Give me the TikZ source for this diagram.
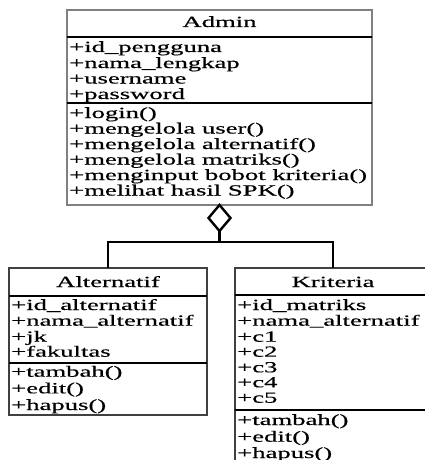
\documentclass[tikz,border=0pt]{standalone}
\usepackage{fontspec}
\setmainfont{Liberation Serif}[FakeBold=0.4]
\usepackage{graphicx}
\usetikzlibrary{shapes.geometric}
\newcommand\sx[1]{\scalebox{1.72}[1]{#1}}
\begin{document}
\begin{tikzpicture}[x=1pt,y=-1pt,
  txt/.style={anchor=base west,inner sep=0pt,font=\fontsize{15.5}{16}\selectfont},
  ttl/.style={anchor=base,inner sep=0pt,font=\fontsize{15.5}{16}\selectfont},
  cls/.style={draw=black!75,line width=1.2pt,anchor=north west,inner sep=0pt,outer sep=0pt},
  adm/.style={cls,draw=black!50,line width=1.8pt},
  sep/.style={black,line width=1.1pt},
  conn/.style={black,line width=2.6pt},
  agg/.style={diamond,draw=black,fill=white,line width=2.4pt,inner sep=0pt,outer sep=0pt,
    minimum width=22pt,minimum height=26pt,anchor=north}
]
\clip (0,0) rectangle (425,460);
\fill[white] (0,0) rectangle (425,460);

% class boxes
\node[adm,minimum width=305pt,minimum height=195pt] (admin) at (67,10) {};
\node[cls,minimum width=198pt,minimum height=147pt] (alt) at (9,268) {};
\node[cls,minimum width=196pt,minimum height=210pt] (krit) at (235,268) {};

% compartments
\draw[sep] (67,37) -- (372,37);
\draw[sep] (67,103) -- (372,103);
\draw[sep] (9,296) -- (207,296);
\draw[sep] (9,363) -- (207,363);
\draw[sep] (235,295) -- (431,295);
\draw[sep] (235,410) -- (431,410);

% Admin
\node[ttl] (admT) at (219.5,27) {\sx{Admin}};
\node[txt] (a1) at (69,52) {\sx{+id\_pengguna}};
\node[txt] (a2) at (69,68) {\sx{+nama\_lengkap}};
\node[txt] (a3) at (69,83.5) {\sx{+username}};
\node[txt] (a4) at (69,99) {\sx{+password}};
\node[txt] (m1) at (69,118) {\sx{+login()}};
\node[txt] (m2) at (69,133.5) {\sx{+mengelola user()}};
\node[txt] (m3) at (69,149) {\sx{+mengelola alternatif()}};
\node[txt] (m4) at (69,164.5) {\sx{+mengelola matriks()}};
\node[txt] (m5) at (69,180) {\sx{+menginput bobot kriteria()}};
\node[txt] (m6) at (69,195.5) {\sx{+melihat hasil SPK()}};

% Alternatif
\node[ttl] (altT) at (108,287) {\sx{Alternatif}};
\node[txt] (b1) at (11,310) {\sx{+id\_alternatif}};
\node[txt] (b2) at (11,325.7) {\sx{+nama\_alternatif}};
\node[txt] (b3) at (11,341.7) {\sx{+jk}};
\node[txt] (b4) at (11,356.7) {\sx{+fakultas}};
\node[txt] (b5) at (11,376.7) {\sx{+tambah()}};
\node[txt] (b6) at (11,393.3) {\sx{+edit()}};
\node[txt] (b7) at (11,410) {\sx{+hapus()}};

% Kriteria
\node[ttl] (kriT) at (333,287) {\sx{Kriteria}};
\node[txt] (k1) at (237,310) {\sx{+id\_matriks}};
\node[txt] (k2) at (237,325.7) {\sx{+nama\_alternatif}};
\node[txt] (k3) at (237,341.7) {\sx{+c1}};
\node[txt] (k4) at (237,356.7) {\sx{+c2}};
\node[txt] (k5) at (237,372.3) {\sx{+c3}};
\node[txt] (k6) at (237,387.3) {\sx{+c4}};
\node[txt] (k7) at (237,402.7) {\sx{+c5}};
\node[txt] (k8) at (237,425) {\sx{+tambah()}};
\node[txt] (k9) at (237,441.7) {\sx{+edit()}};
\node[txt] (k10) at (237,458) {\sx{+hapus()}};

% aggregation
\node[agg] (dia) at (admin.south) {};
\draw[conn] (dia.south) -- ++(0,11) coordinate (j) -| (alt.north);
\draw[conn] (j) -| (krit.north);
\end{tikzpicture}
\end{document}
